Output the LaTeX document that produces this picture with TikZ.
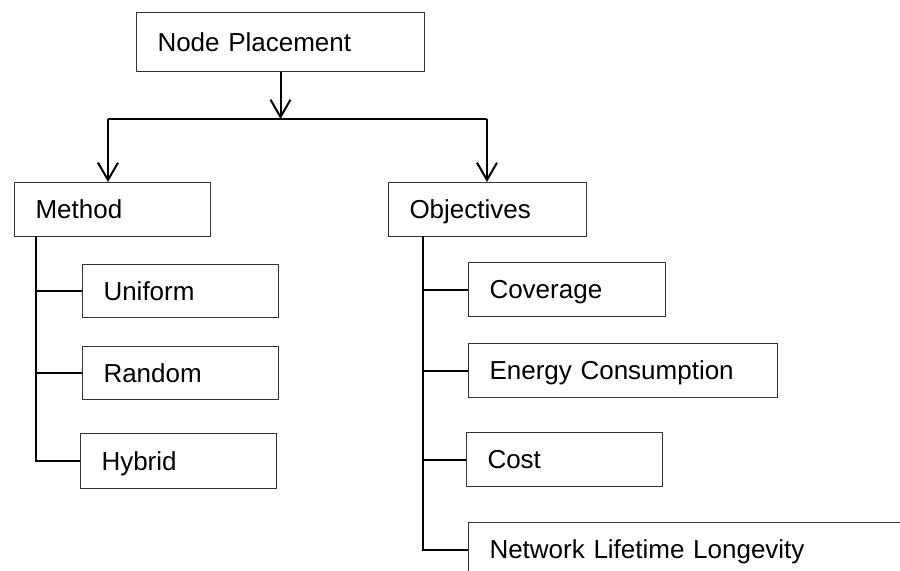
\documentclass[tikz,border=0pt]{standalone}
\usepackage{fontspec}
\setmainfont{Liberation Sans}
\usetikzlibrary{arrows.meta, positioning}
\tikzset{x=0.75pt, y=-0.75pt}
\tikzset{box/.style={draw=black!80, line width=0.75pt, anchor=north west, align=left,
    inner xsep=15.75pt, inner ysep=0pt, text height=14pt, text depth=0pt,
    font=\fontsize{19.5}{23}\selectfont},
  conn/.style={line width=1.5pt, black},
  arr/.style={conn, -{Straight Barb[length=13pt,width=15pt,line width=1.5pt]}}}

\begin{document}
\begin{tikzpicture}
  \useasboundingbox (0,0) rectangle (900,571);
  \clip (0,0) rectangle (900,571);
%% top box
  \node[box, text width=184.5pt, minimum height=44.25pt] (np) at (136,12) {Node Placement};
%% the two branches
  \node[box, text width=115.5pt, minimum height=40.5pt] (method) at (14,182) {Method};
  \node[box, text width=117pt, minimum height=40.5pt] (obj) at (388,182) {Objectives};
  \coordinate (barL) at (108,119);
  \coordinate (barR) at (487,119);
  \draw[arr] (np.south) -- (np.south |- barL);
  \draw[conn] (barL) -- (barR);
  \draw[arr] (barL) -- (barL |- method.north);
  \draw[arr] (barR) -- (barR |- obj.north);
%% Method list
  \node[box, text width=115.5pt, minimum height=39.75pt] (unif) at (82,264) {Uniform};
  \node[box, text width=115.5pt, minimum height=39.75pt] (rand) at (82,346) {Random};
  \node[box, text width=115.5pt, minimum height=41.25pt] (hyb) at (80,433) {Hybrid};
  \coordinate (mtop) at (36,236);
  \draw[conn] (mtop) |- (hyb.west);
  \draw[conn] (mtop |- unif.west) -- (unif.west);
  \draw[conn] (mtop |- rand.west) -- (rand.west);
%% Objectives list
  \node[box, text width=116.25pt, minimum height=40.5pt] (cov) at (468,262) {Coverage};
  \node[box, text width=200.25pt, minimum height=40.5pt] (energy) at (468,343) {Energy Consumption};
  \node[box, text width=115.5pt, minimum height=40.5pt] (cost) at (466,432) {Cost};
  \node[box, text width=313.5pt, minimum height=40.5pt] (life) at (468,522) {Network Lifetime Longevity};
  \coordinate (otop) at (423,236);
  \draw[conn] (otop) |- (life.west);
  \draw[conn] (otop |- cov.west) -- (cov.west);
  \draw[conn] (otop |- energy.west) -- (energy.west);
  \draw[conn] (otop |- cost.west) -- (cost.west);
\end{tikzpicture}
\end{document}
